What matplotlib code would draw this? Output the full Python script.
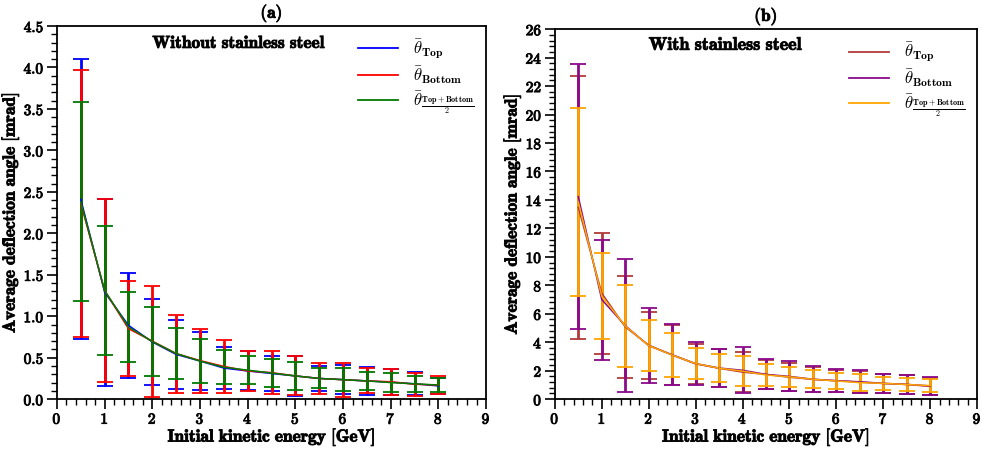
import matplotlib
matplotlib.use("Agg")
import matplotlib.pyplot as plt
import matplotlib.patheffects as pe
from matplotlib.lines import Line2D
from matplotlib.ticker import MultipleLocator, FuncFormatter

plt.rcParams['mathtext.fontset'] = 'cm'
plt.rcParams['font.family'] = 'serif'
plt.rcParams['font.serif'] = ['DejaVu Serif']

energy = [0.5, 1.0, 1.5, 2.0, 2.5, 3.0, 3.5, 4.0, 4.5, 5.0, 5.5, 6.0, 6.5, 7.0, 7.5, 8.0]

# (a) without stainless steel [mrad]
a_top = [2.41, 1.29, 0.89, 0.69, 0.54, 0.46, 0.375, 0.34, 0.31, 0.28, 0.25, 0.235, 0.22, 0.205, 0.185, 0.16]
a_top_err = [1.69, 1.13, 0.63, 0.52, 0.42, 0.35, 0.255, 0.235, 0.21, 0.24, 0.15, 0.175, 0.17, 0.16, 0.14, 0.10]
a_bot = [2.36, 1.31, 0.85, 0.70, 0.55, 0.465, 0.395, 0.34, 0.32, 0.28, 0.25, 0.235, 0.22, 0.21, 0.18, 0.17]
a_bot_err = [1.61, 1.10, 0.57, 0.67, 0.47, 0.385, 0.315, 0.24, 0.26, 0.235, 0.19, 0.205, 0.15, 0.155, 0.14, 0.11]
a_avg = [2.38, 1.31, 0.87, 0.695, 0.55, 0.46, 0.385, 0.35, 0.315, 0.28, 0.25, 0.235, 0.22, 0.20, 0.185, 0.17]
a_avg_err = [1.20, 0.78, 0.42, 0.415, 0.31, 0.26, 0.205, 0.17, 0.165, 0.17, 0.12, 0.135, 0.11, 0.11, 0.095, 0.08]

# (b) with stainless steel [mrad]
b_top = [13.48, 7.45, 5.08, 3.80, 3.10, 2.48, 2.17, 1.90, 1.74, 1.54, 1.39, 1.29, 1.20, 1.10, 1.03, 0.90]
b_top_err = [9.26, 4.26, 3.56, 2.36, 2.10, 1.38, 1.32, 1.43, 1.04, 0.97, 0.88, 0.78, 0.80, 0.64, 0.66, 0.60]
b_bot = [14.23, 7.00, 5.17, 3.76, 3.12, 2.50, 2.19, 2.03, 1.74, 1.60, 1.40, 1.30, 1.22, 1.11, 1.04, 0.93]
b_bot_err = [9.33, 4.22, 4.70, 2.63, 2.13, 1.52, 1.37, 1.63, 1.06, 1.05, 0.91, 0.81, 0.82, 0.67, 0.69, 0.64]
b_avg = [13.85, 7.24, 5.14, 3.77, 3.10, 2.50, 2.18, 1.97, 1.70, 1.57, 1.40, 1.28, 1.16, 1.11, 1.03, 0.95]
b_avg_err = [6.59, 3.04, 2.87, 1.78, 1.52, 1.07, 0.96, 1.03, 0.78, 0.71, 0.63, 0.57, 0.58, 0.48, 0.49, 0.46]

THICK = [pe.withStroke(linewidth=0.7, foreground='#111111')]


def bold(s):
    return r'$\mathbf{' + s.replace(' ', r'\ ') + '}$'


def fmt_int(v, p):
    return r'$\mathbf{%d}$' % round(v)


def fmt_one(v, p):
    return r'$\mathbf{%.1f}$' % v


labels = [r'$\bar{\theta}_{\mathbf{Top}}$',
          r'$\bar{\theta}_{\mathbf{Bottom}}$',
          r'$\bar{\theta}_{\frac{\mathbf{Top+Bottom}}{2}}$']


def draw_panel(ax, series, colors, ymax, ymajor, yminor, yfmt, title, note, note_y, note_fs):
    for (mean, err), c in zip(series, colors):
        ax.errorbar(energy, mean, yerr=err, color=c, lw=1.1, elinewidth=2.0,
                    capsize=5.5, capthick=1.3)
    ax.set_xlim(0, 9)
    ax.set_ylim(0, ymax)
    ax.xaxis.set_major_locator(MultipleLocator(1))
    ax.xaxis.set_minor_locator(MultipleLocator(0.2))
    ax.yaxis.set_major_locator(MultipleLocator(ymajor))
    ax.yaxis.set_minor_locator(MultipleLocator(yminor))
    ax.xaxis.set_major_formatter(FuncFormatter(fmt_int))
    ax.yaxis.set_major_formatter(FuncFormatter(yfmt))
    ax.tick_params(which='major', direction='out', length=7, width=1.2, labelsize=11, pad=2)
    ax.tick_params(which='minor', direction='out', length=4, width=1.0)
    for sp in ax.spines.values():
        sp.set_linewidth(1.3)
    ax.set_xlabel(bold('Initial kinetic energy [GeV]'), fontsize=12.5, labelpad=0)
    ax.set_ylabel(bold('Average deflection angle [mrad]'), fontsize=12.5, labelpad=1.5)
    ax.set_title(bold(title), fontsize=12.5, pad=6)
    note_t = ax.text(2.0, note_y, bold(note), fontsize=note_fs, va='center')
    handles = [Line2D([], [], color=c, lw=1.3) for c in colors]
    ax.legend(handles, labels, loc='upper right', bbox_to_anchor=(1.0, 1.0),
              frameon=False, fontsize=12, handlelength=2.4, labelspacing=0.2,
              borderaxespad=0.3, handletextpad=0.9)
    for t in ax.get_xticklabels() + ax.get_yticklabels():
        t.set_path_effects(THICK)
    for t in [ax.xaxis.label, ax.yaxis.label, ax.title, note_t]:
        t.set_path_effects(THICK)


fig = plt.figure(figsize=(9.82, 4.49), dpi=100)
ax1 = fig.add_axes([0.058, 0.111, 0.437, 0.831])
ax2 = fig.add_axes([0.565, 0.111, 0.430, 0.824])

draw_panel(ax1, [(a_top, a_top_err), (a_bot, a_bot_err), (a_avg, a_avg_err)],
           ['#0000ff', '#ff0000', '#007a00'], 4.5, 0.5, 0.1, fmt_one, '(a)',
           'Without stainless steel', 4.29, 12.5)
draw_panel(ax2, [(b_top, b_top_err), (b_bot, b_bot_err), (b_avg, b_avg_err)],
           ['#b03a3a', '#8b0a8b', '#ffa500'], 26, 2, 0.4, fmt_int, '(b)',
           'With stainless steel', 24.9, 13)

fig.savefig('out.png', dpi=100)
